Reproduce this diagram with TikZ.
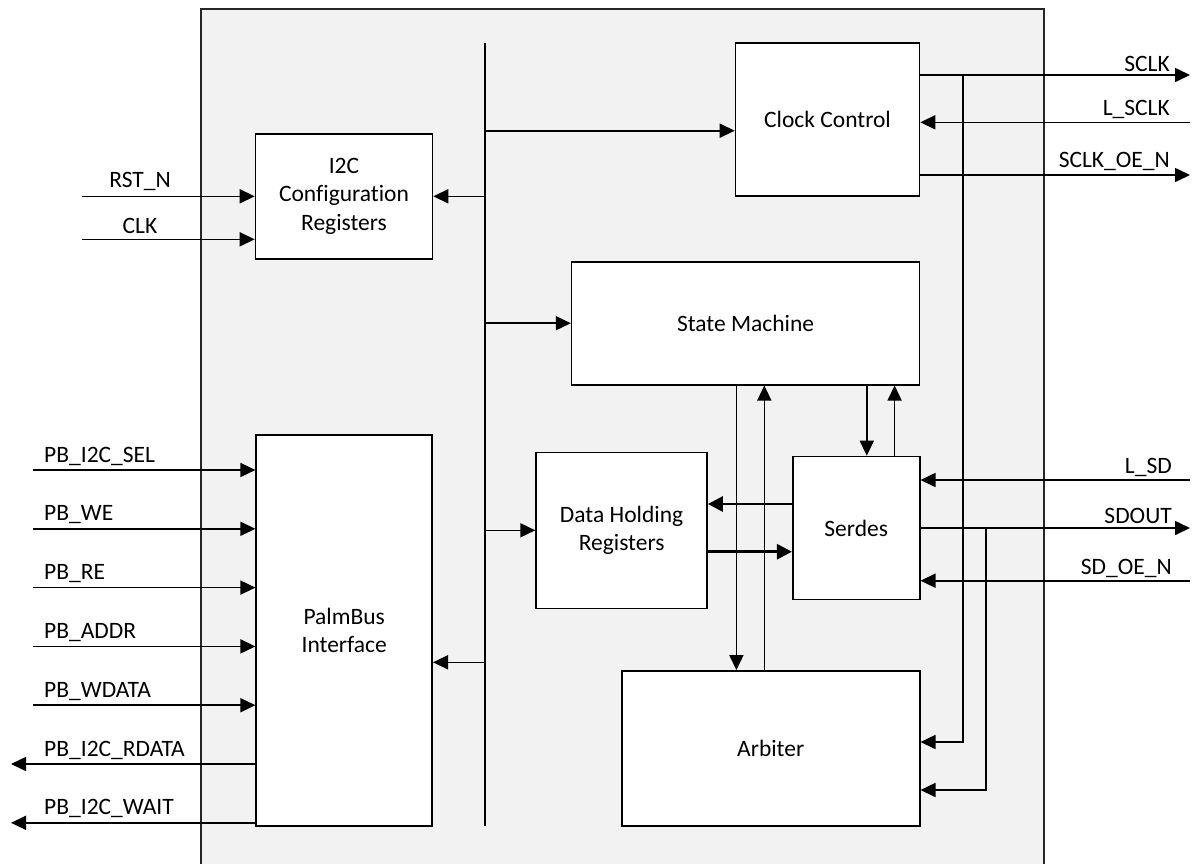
\documentclass[tikz,border=0pt]{standalone}
\usepackage{fontspec}
\setmainfont{Carlito}[Ligatures=NoCommon]
\usetikzlibrary{arrows.meta}
\tikzset{
  blk/.style={draw, fill=white, line width=1.6pt, inner sep=0pt, align=center,
    font=\fontsize{23.5}{28.5}\selectfont},
  sig/.style={inner sep=0pt, font=\fontsize{23.5}{28}\selectfont},
  arr/.style={line width=1.6pt, -{Triangle[length=15pt,width=14pt]}},
  wide/.style={line width=2.8pt, -{Triangle[length=15pt,width=15pt]}},
}
\begin{document}
\begin{tikzpicture}[x=1pt,y=-1pt]
  \useasboundingbox (0,0) rectangle (1193,863);
  \draw[fill=black!5, draw=black!85, line width=1.5pt] (201,9) rectangle (1044,900);
  % internal bus
  \coordinate (bt) at (485,43);
  \coordinate (bb) at (485,826);
  \draw[line width=1.6pt] (bt) -- (bb);
  % blocks
  \node[blk, minimum width=177pt, minimum height=125pt] (i2c) at (344,196.3) {I2C\\Configuration\\Registers};
  \node[blk, minimum width=176pt, minimum height=391pt] (palm) at (344.2,630.3) {PalmBus\\Interface};
  \node[blk, minimum width=184pt, minimum height=153pt] (clock) at (827.5,119.7) {Clock Control};
  \node[blk, minimum width=348pt, minimum height=123pt] (sm) at (745.6,323.2) {State Machine};
  \node[blk, minimum width=171pt, minimum height=156pt] (dh) at (621.6,530.3) {Data Holding\\Registers};
  \node[blk, minimum width=127pt, minimum height=143pt] (serdes) at (856.2,528) {Serdes};
  \node[blk, minimum width=298pt, minimum height=155pt] (arb) at (770.7,748.4) {Arbiter};
  % bus taps
  \coordinate (ck) at ([yshift=-11pt]clock.west);
  \coordinate (pb) at ([yshift=-32pt]palm.east);
  \draw[arr] (bt |- ck) -- (ck);
  \draw[arr] (bt |- i2c.east) -- (i2c.east);
  \draw[arr] (bt |- sm.west) -- (sm.west);
  \draw[arr] (bt |- dh.west) -- (dh.west);
  \draw[arr] (bt |- pb) -- (pb);
  % i2c inputs
  \coordinate (lft) at (82,0);
  \coordinate (rst) at (i2c.west);
  \coordinate (clkin) at ([yshift=-43pt]i2c.west);
  \draw[arr] (lft |- rst) -- (rst);
  \draw[arr] (lft |- clkin) -- (clkin);
  \node[sig, anchor=base] (rstl) at (140,187) {RST\_N};
  \node[sig, anchor=base] (clkl) at (140,233) {CLK};
  % palmbus pins
  \foreach \n/\t in {0/PB\_I2C\_SEL, 1/PB\_WE, 2/PB\_RE, 3/PB\_ADDR, 4/PB\_WDATA} {
    \coordinate (in\n) at (33,470+58.8*\n);
    \draw[arr] (in\n) -- (in\n -| palm.west);
    \node[sig, anchor=base west] (inl\n) at (44,462+58.8*\n) {\t};
  }
  \foreach \n/\t in {5/PB\_I2C\_RDATA, 6/PB\_I2C\_WAIT} {
    \coordinate (out\n) at (11,470+58.8*\n);
    \draw[arr] (out\n -| palm.west) -- (out\n);
    \node[sig, anchor=base west] (outl\n) at (44,462+58.8*\n) {\t};
  }
  % clock control pins
  \coordinate (rgt) at (1190,0);
  \coordinate (sclk) at ([yshift=44.7pt]clock.east);
  \coordinate (lsclk) at ([yshift=-2.6pt]clock.east);
  \coordinate (sclkoe) at ([yshift=-55.3pt]clock.east);
  \draw[arr] (sclk) -- (sclk -| rgt);
  \draw[arr] (rgt |- lsclk) -- (lsclk);
  \draw[arr] (sclkoe) -- (sclkoe -| rgt);
  \node[sig, anchor=base east] (sclkl) at (1170,71) {SCLK};
  \node[sig, anchor=base east] (lsclkl) at (1170,115) {L\_SCLK};
  \node[sig, anchor=base east] (sclkoel) at (1170,167) {SCLK\_OE\_N};
  % serdes pins
  \coordinate (lsd) at ([yshift=48pt]serdes.east);
  \coordinate (sdoe) at ([yshift=-52.7pt]serdes.east);
  \draw[arr] (rgt |- lsd) -- (lsd);
  \draw[arr] (serdes.east) -- (serdes.east -| rgt);
  \draw[arr] (rgt |- sdoe) -- (sdoe);
  \node[sig, anchor=base east] (lsdl) at (1172,473) {L\_SD};
  \node[sig, anchor=base east] (sdoutl) at (1172,523) {SDOUT};
  \node[sig, anchor=base east] (sdoel) at (1172,574) {SD\_OE\_N};
  % feedback to arbiter
  \coordinate (v1) at (963,0);
  \coordinate (v2) at (986,0);
  \coordinate (a1) at ([yshift=6.4pt]arb.east);
  \coordinate (a2) at ([yshift=-41.6pt]arb.east);
  \draw[arr] (v1 |- sclk) |- (a1);
  \draw[arr] (v2 |- serdes.east) |- (a2);
  % state machine links
  \coordinate (d1) at ([xshift=-34.3pt]arb.north);
  \coordinate (u1) at ([xshift=-6.4pt]arb.north);
  \coordinate (d2) at ([xshift=10.6pt]serdes.north);
  \coordinate (u2) at ([xshift=38.4pt]serdes.north);
  \draw[arr] (d1 |- sm.south) -- (d1);
  \draw[arr] (u1) -- (u1 |- sm.south);
  \draw[arr] (d2 |- sm.south) -- (d2);
  \draw[arr] (u2) -- (u2 |- sm.south);
  % data paths
  \coordinate (s1) at ([yshift=24pt]serdes.west);
  \coordinate (s2) at ([yshift=-21.4pt]dh.east);
  \draw[wide] (s1) -- (s1 -| dh.east);
  \draw[wide] (s2) -- (s2 -| serdes.west);
\end{tikzpicture}
\end{document}
